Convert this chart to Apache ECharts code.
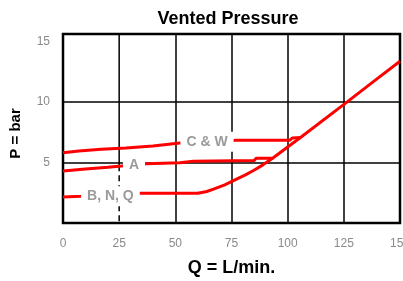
<!DOCTYPE html>
<html>
<head>
<meta charset="utf-8">
<script src="https://cdn.jsdelivr.net/npm/echarts@6/dist/echarts.min.js"></script>
<style>
  html, body { margin: 0; padding: 0; background: #fff; }
  #chart { width: 403px; height: 281px; }
</style>
</head>
<body>
<div id="chart"></div>
<script>
// flow Q (L/min) and pressure P (bar)
const mainQ = [0, 8, 32, 60, 64, 67, 72, 77, 81, 85, 89, 93, 100, 106, 126.5, 138, 150]
const mainP = [2.15, 2.2, 2.45, 2.45, 2.6, 2.8, 3.15, 3.6, 3.95, 4.35, 4.8, 5.3, 6.27, 7.1, 10, 11.65, 13.35]

const aQ = [0, 10, 20, 26, 37, 52, 58, 85, 86, 93]
const aP = [4.3, 4.45, 4.6, 4.7, 4.9, 4.97, 5.1, 5.15, 5.35, 5.35]

const cwQ = [0, 7, 17, 28, 40, 52, 77, 101, 102, 106]
const cwP = [5.8, 5.95, 6.08, 6.2, 6.36, 6.6, 6.83, 6.83, 7.02, 7.05]

const tagNames = ['C & W', 'A', 'B, N, Q']
const tagQ = [64.1, 31.6, 21.1]
const tagP = [6.7, 4.77, 2.2]

const xTicks = [0, 25, 50, 75, 100, 125, 150]
const yTicks = [5, 10, 15]

const zip = (xs, ys) => xs.map((x, i) => [x, ys[i]])

const chart = echarts.init(document.getElementById('chart'))

const red = '#ff0000'
const grey = '#8a8a8a'

const option = {
  animation: false,
  backgroundColor: '#fff',
  title: {
    text: 'Vented Pressure',
    left: 228,
    textAlign: 'center',
    top: 10,
    padding: 0,
    textStyle: {
      fontFamily: 'Liberation Sans, Arial, sans-serif',
      fontSize: 18,
      fontWeight: 'bold',
      color: '#000',
    },
  },
  grid: {
    left: 63,
    right: 3,
    top: 34,
    bottom: 58,
    outerBoundsMode: 'none',
    containLabel: false,
    show: true,
    borderColor: '#000',
    borderWidth: 2.5,
    backgroundColor: '#fff',
  },
  xAxis: {
    type: 'value',
    min: 0,
    max: 150,
    interval: 25,
    name: 'Q = L/min.',
    nameLocation: 'middle',
    nameGap: 36,
    nameTextStyle: {
      fontFamily: 'Liberation Sans, Arial, sans-serif',
      fontSize: 18,
      fontWeight: 'bold',
      color: '#000',
    },
    axisLine: { show: false },
    axisTick: { show: false },
    axisLabel: {
      margin: 15,
      fontFamily: 'Liberation Sans, Arial, sans-serif',
      fontSize: 12,
      color: grey,
      formatter: (v) => (xTicks.includes(v) ? String(v) : ''),
    },
    splitLine: {
      show: true,
      lineStyle: {
        width: 1.5,
        // the 25 line is drawn below as its own series (solid above, dashed below)
        color: ['rgba(0,0,0,0)', 'rgba(0,0,0,0)', '#000', '#000', '#000', '#000', 'rgba(0,0,0,0)'],
      },
    },
  },
  yAxis: {
    type: 'value',
    min: 0,
    max: 15.6,
    interval: 5,
    name: 'P = bar',
    nameLocation: 'middle',
    nameGap: 40,
    nameRotate: 90,
    nameTextStyle: {
      fontFamily: 'Liberation Sans, Arial, sans-serif',
      fontSize: 15,
      fontWeight: 'bold',
      color: '#000',
      padding: [0, 10, 0, 0],
    },
    axisLine: { show: false },
    axisTick: { show: false },
    axisLabel: {
      margin: 13,
      fontFamily: 'Liberation Sans, Arial, sans-serif',
      fontSize: 12,
      color: grey,
      formatter: (v) => (yTicks.includes(v) ? String(v) : ''),
    },
    splitLine: {
      show: true,
      lineStyle: {
        width: 1.5,
        color: ['rgba(0,0,0,0)', '#000', '#000', 'rgba(0,0,0,0)', 'rgba(0,0,0,0)'],
      },
    },
  },
  series: [
    {
      name: 'grid25solid',
      type: 'line',
      silent: true,
      symbol: 'none',
      z: 1,
      lineStyle: { color: '#000', width: 1.5 },
      data: [[25, 15.6], [25, 4.77]],
    },
    {
      name: 'grid25dash',
      type: 'line',
      silent: true,
      symbol: 'none',
      z: 1,
      lineStyle: { color: '#000', width: 1.5, type: [6, 4] },
      data: [[25, 4.77], [25, 0]],
    },
    {
      name: 'B, N, Q',
      type: 'line',
      symbol: 'none',
      z: 3,
      lineStyle: { color: red, width: 3 },
      data: zip(mainQ, mainP),
    },
    {
      name: 'A',
      type: 'line',
      symbol: 'none',
      z: 3,
      lineStyle: { color: red, width: 3 },
      data: zip(aQ, aP),
    },
    {
      name: 'C & W',
      type: 'line',
      symbol: 'none',
      z: 3,
      lineStyle: { color: red, width: 3 },
      data: zip(cwQ, cwP),
    },
    {
      name: 'tags',
      type: 'scatter',
      symbolSize: 0,
      z: 5,
      silent: true,
      itemStyle: { opacity: 1 },
      label: {
        show: true,
        position: 'inside',
        formatter: (p) => tagNames[p.dataIndex],
        fontFamily: 'Liberation Sans, Arial, sans-serif',
        fontSize: 14,
        fontWeight: 'bold',
        color: '#9a9a9a',
        backgroundColor: '#fff',
        padding: [3, 6, 3, 6],
      },
      data: zip(tagQ, tagP),
    },
  ],
}

chart.setOption(option)
</script>
</body>
</html>
